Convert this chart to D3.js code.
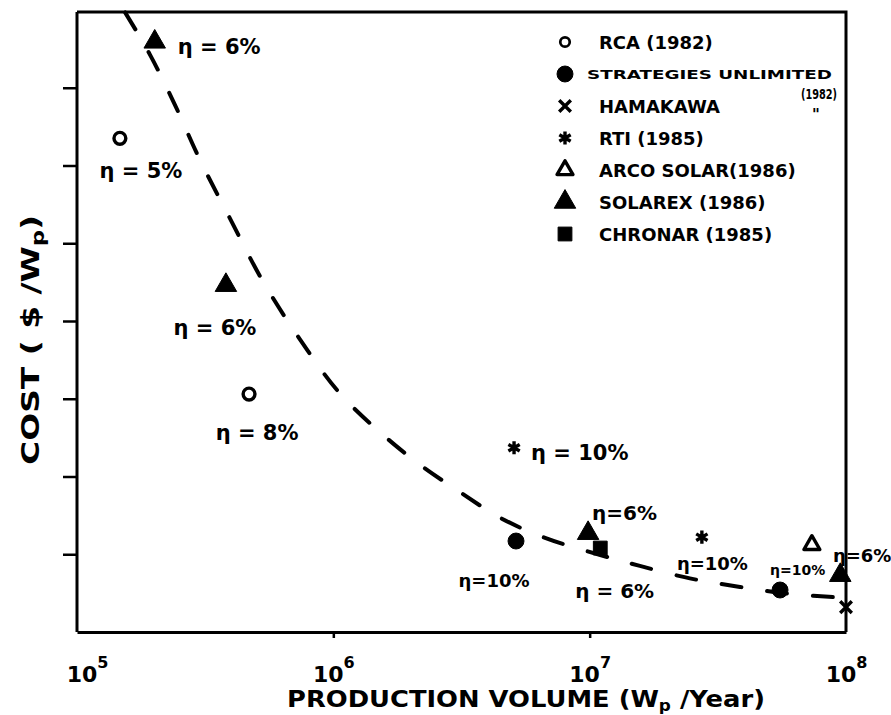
<!DOCTYPE html>
<html>
<head>
<meta charset="utf-8">
<script src="https://cdn.jsdelivr.net/npm/d3@7"></script>
<style>
  body { margin: 0; background: #fff; }
  text { font-family: "DejaVu Sans", sans-serif; font-weight: bold; fill: #000; }
</style>
</head>
<body>
<div id="chart"></div>
<script>
// values (cost axis has no numbers, so units are tick steps)
var companies = ["RCA (1982)", "STRATEGIES UNLIMITED", "HAMAKAWA", "RTI (1985)", "ARCO SOLAR(1986)", "SOLAREX (1986)", "CHRONAR (1985)"];
var companyKeys = ["rca", "su", "hama", "rti", "arco", "solarex", "chronar"];

var pointCompany = ["solarex", "rca", "solarex", "rca", "rti", "su", "solarex", "chronar", "rti", "su", "arco", "solarex", "hama"];
var pointVolume = [2.01e5, 1.47e5, 3.81e5, 4.69e5, 5.07e6, 5.16e6, 9.86e6, 1.10e7, 2.74e7, 5.53e7, 7.36e7, 9.5e7, 1.0e8];
var pointCost = [7.59, 6.35, 4.46, 3.06, 2.37, 1.17, 1.27, 1.08, 1.22, 0.54, 1.12, 0.73, 0.32];
var pointEta = ["η = 6%", "η = 5%", "η = 6%", "η = 8%", "η = 10%", "η=10%", "η=6%", "η = 6%", "η=10%", "η=10%", "η=6%", "", ""];

// dashed trend curve
var curveVolume = [1.54e5, 1.93e5, 2.41e5, 3.02e5, 3.95e5, 5.27e5, 7.42e5, 1.06e6, 1.52e6, 2.18e6, 3.12e6, 4.47e6, 6.70e6, 1.10e7, 1.57e7, 2.46e7, 3.86e7, 6.05e7, 1.0e8];
var curveCost = [7.97, 7.42, 6.78, 6.07, 5.32, 4.53, 3.76, 3.07, 2.57, 2.15, 1.80, 1.47, 1.21, 0.99, 0.85, 0.69, 0.58, 0.49, 0.44];

var xTicks = [1e5, 1e6, 1e7, 1e8];
var yTicks = [1, 2, 3, 4, 5, 6, 7];

// label placement for the eta notes (dx, dy from the mark, anchor, size)
var etaPlace = [
  [23, 12, "start", 21], [21, 40, "middle", 21], [-11, 50, "middle", 21], [8, 46, "middle", 21],
  [17, 12, "start", 21], [-22, 46, "middle", 18], [4, -13, "start", 20], [-25, 50, "start", 20],
  [-25, 33, "start", 18], [-10, -15, "start", 14], [21, 17, "start", 18], [0, 0, "start", 0], [0, 0, "start", 0]
];

var W = 891, H = 715;
var svg = d3.select("#chart").append("svg").attr("width", W).attr("height", H);

var x = d3.scaleLog().domain([1e5, 1e8]).range([77, 846]);
var y = d3.scaleLinear().domain([0, 8]).range([632, 10]);

var symFor = {
  rca: { type: d3.symbolCircle, size: 110, fill: "none" },
  su: { type: d3.symbolCircle, size: 200, fill: "#000" },
  hama: { type: d3.symbolX, size: 90, fill: "none" },
  rti: { type: d3.symbolAsterisk, size: 120, fill: "none" },
  arco: { type: d3.symbolTriangle, size: 110, fill: "none" },
  solarex: { type: d3.symbolTriangle, size: 200, fill: "#000" },
  chronar: { type: d3.symbolSquare, size: 190, fill: "#000" }
};

function drawSym(sel, key) {
  var s = symFor[key];
  sel.append("path")
    .attr("d", d3.symbol().type(s.type).size(s.size)())
    .attr("fill", s.fill)
    .attr("stroke", "#000")
    .attr("stroke-width", s.fill == "none" ? 3.4 : 1)
    .attr("stroke-linejoin", "round");
}

// frame: left + bottom come from the axes, top + right drawn here
svg.append("path")
  .attr("d", "M" + x(1e5) + "," + 12 + "H" + x(1e8) + "V" + y(0))
  .attr("fill", "none").attr("stroke", "#000").attr("stroke-width", 3);

var yAxis = svg.append("g")
  .attr("transform", "translate(" + x(1e5) + ",0)")
  .call(d3.axisLeft(y).tickValues(yTicks).tickSize(14).tickFormat("").tickSizeOuter(0));
yAxis.select(".domain").attr("d", "M0," + y(0) + "V12").attr("stroke-width", 3);
yAxis.selectAll(".tick line").attr("stroke-width", 2.5);

var xAxis = svg.append("g")
  .attr("transform", "translate(0," + y(0) + ")")
  .call(d3.axisBottom(x).tickValues(xTicks).tickSize(6).tickFormat("").tickSizeOuter(0));
xAxis.select(".domain").attr("stroke-width", 3);
xAxis.selectAll(".tick line").attr("stroke-width", 2.5)
  .attr("y2", function(d) { return (d == 1e5 || d == 1e8) ? 0 : 6; });

xAxis.selectAll(".tick").each(function(d, i) {
  var t = d3.select(this).append("text")
    .attr("x", i == 0 ? 10 : 0).attr("y", 50)
    .attr("text-anchor", "middle")
    .style("font-size", "22px");
  t.append("tspan").text("10");
  t.append("tspan").attr("dy", -14).style("font-size", "16px").text(Math.round(Math.log10(d)));
});

// axis titles
var xt = svg.append("text")
  .attr("x", 287).attr("y", 707)
  .attr("textLength", 478)
  .attr("lengthAdjust", "spacingAndGlyphs")
  .style("font-size", "23px");
xt.append("tspan").text("PRODUCTION VOLUME (W");
xt.append("tspan").attr("dy", 4).style("font-size", "15px").text("p");
xt.append("tspan").attr("dy", -4).text(" /Year)");

var yt = svg.append("text")
  .attr("transform", "translate(39,465) rotate(-90)")
  .attr("textLength", 250)
  .attr("lengthAdjust", "spacingAndGlyphs")
  .style("font-size", "25px");
yt.append("tspan").text("COST ( $ /W");
yt.append("tspan").attr("dy", 5).style("font-size", "17px").text("p");
yt.append("tspan").attr("dy", -5).text(")");

// dashed trend
var curveData = curveVolume.map(function(v, i) { return [v, curveCost[i]]; });
svg.append("path")
  .datum(curveData)
  .attr("d", d3.line().x(function(d) { return x(d[0]); }).y(function(d) { return y(d[1]); }).curve(d3.curveCatmullRom))
  .attr("fill", "none")
  .attr("stroke", "#000")
  .attr("stroke-width", 4)
  .attr("stroke-linecap", "round")
  .attr("stroke-dasharray", "20 26");

// data points
var pts = pointVolume.map(function(v, i) {
  return { v: v, c: pointCost[i], k: pointCompany[i], eta: pointEta[i], p: etaPlace[i] };
});

var g = svg.selectAll(".pt").data(pts).enter().append("g")
  .attr("class", "pt")
  .attr("transform", function(d) { return "translate(" + x(d.v) + "," + y(d.c) + ")"; });
g.each(function(d) { drawSym(d3.select(this), d.k); });
g.filter(function(d) { return d.eta != ""; }).append("text")
  .attr("x", function(d) { return d.p[0]; })
  .attr("y", function(d) { return d.p[1]; })
  .attr("text-anchor", function(d) { return d.p[2]; })
  .style("font-size", function(d) { return d.p[3] + "px"; })
  .text(function(d) { return d.eta; });

// legend
var leg = svg.append("g").attr("transform", "translate(565,42)");
var li = leg.selectAll(".li").data(companies).enter().append("g")
  .attr("class", "li")
  .attr("transform", function(d, i) { return "translate(0," + (i * 32) + ")"; });
li.each(function(d, i) {
  var k = companyKeys[i];
  var s = d3.select(this);
  s.append("g").attr("transform", k == "rca" ? "scale(0.8)" : "").call(drawSym, k);
  s.append("text")
    .attr("x", k == "su" ? 22 : 34).attr("y", k == "su" ? 5 : 7)
    .style("font-size", k == "su" ? "13px" : "18px")
    .attr("textLength", k == "su" ? 245 : null)
    .attr("lengthAdjust", "spacingAndGlyphs")
    .text(d);
});
leg.append("text").attr("x", 236).attr("y", 57)
  .attr("textLength", 36).attr("lengthAdjust", "spacingAndGlyphs")
  .style("font-size", "14px").text("(1982)");
leg.append("text").attr("x", 247).attr("y", 78).style("font-size", "15px").text("\"");
</script>
</body>
</html>
